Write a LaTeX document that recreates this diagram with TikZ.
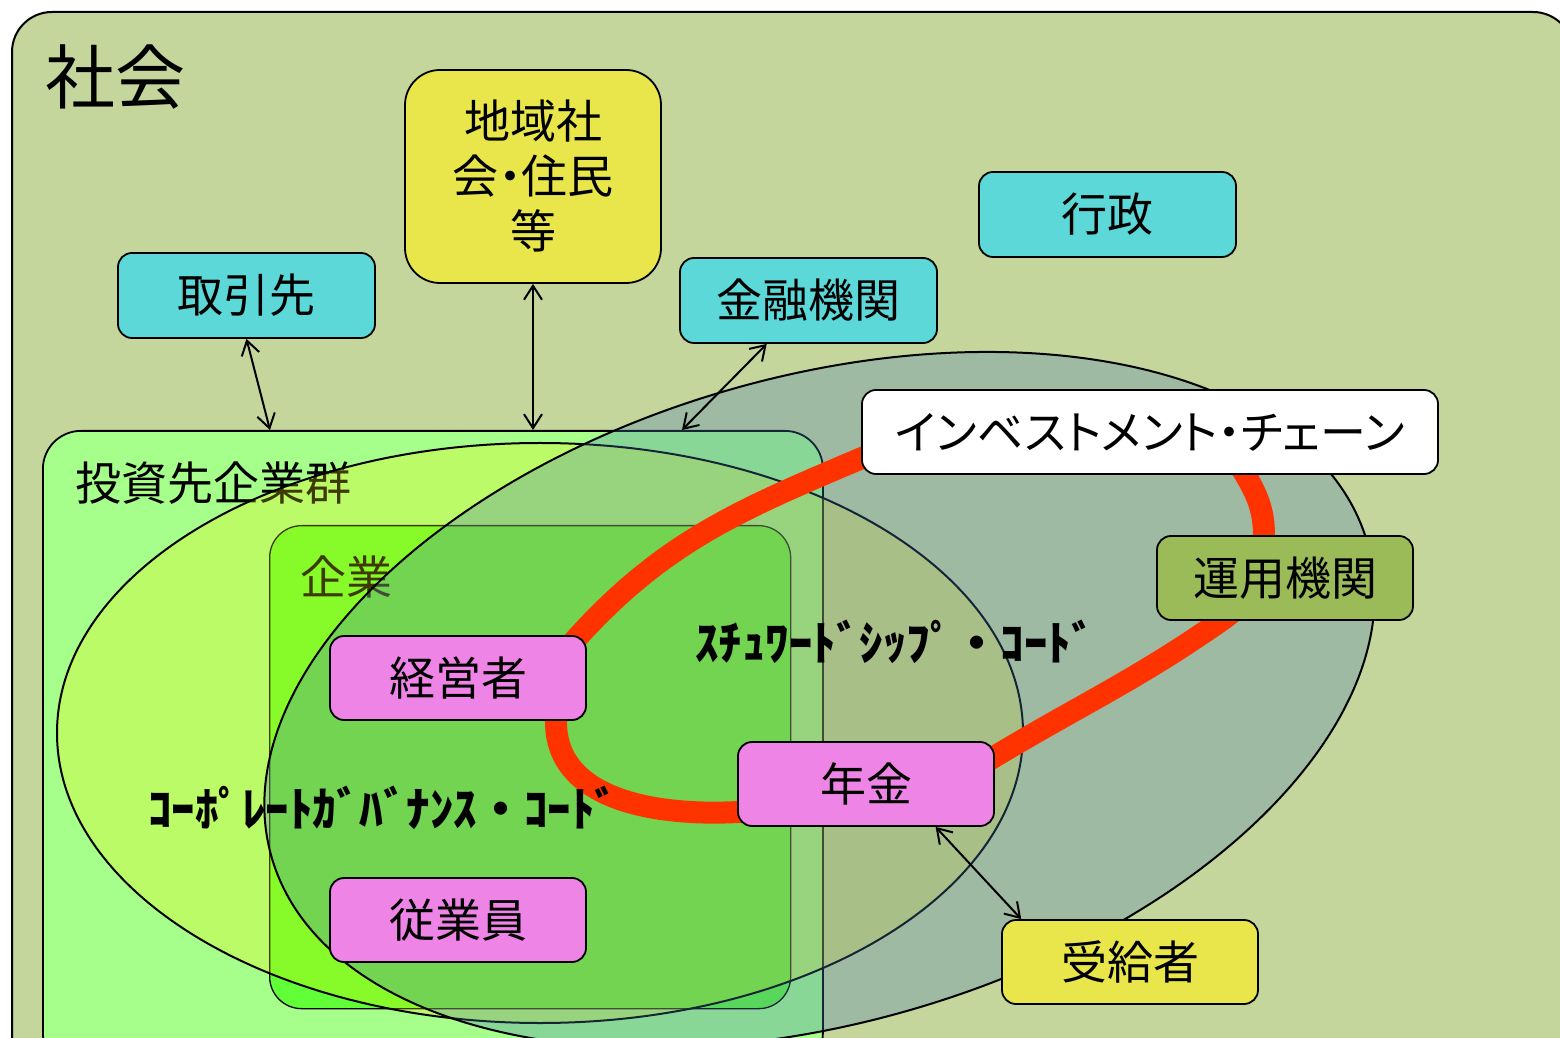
\documentclass[tikz,border=0pt]{standalone}
\usepackage{fontspec}
\setmainfont{Noto Sans CJK JP}
\usetikzlibrary{arrows.meta,calc}
\definecolor{bgc}{HTML}{C4D69C}
\definecolor{toshic}{HTML}{A6FF8A}
\definecolor{kigyoc}{HTML}{60FF37}
\definecolor{cyanc}{HTML}{5CD8D8}
\definecolor{yelc}{HTML}{E8E64A}
\definecolor{pinkc}{HTML}{EE84E6}
\definecolor{olivec}{HTML}{9BBB59}
\definecolor{loopc}{HTML}{FF3300}
\definecolor{sblue}{HTML}{497CB3}
\newcommand\bxf{\fontsize{46}{55}\selectfont}
\tikzset{
  box/.style={draw=black, line width=1.8pt, rounded corners=14pt, minimum width=256pt, minimum height=85pt, inner sep=0pt, font=\bxf},
  link/.style={line width=2pt, {Straight Barb[length=14pt,width=18pt]}-{Straight Barb[length=14pt,width=18pt]}},
  lbl/.style={inner sep=0pt, font=\bxf},
  code/.style={inner sep=0pt, font=\fontsize{47}{50}\selectfont\bfseries},
}
\begin{document}
\begin{tikzpicture}[x=1pt,y=1pt]
\useasboundingbox (0,0) rectangle (1560,1037);
\clip (0,0) rectangle (1560,1037);
\fill[white] (0,0) rectangle (1560,1037);
\draw[fill=bgc, line width=2pt, rounded corners=40pt] (12,-40) rectangle (1573,1025);
\node[inner sep=0pt, font=\fontsize{70}{80}\selectfont] (shakai) at (115,960) {社会};

% investee group and company
\node[draw=black, line width=1.8pt, fill=toshic, rounded corners=38pt, minimum width=780pt, minimum height=640pt, anchor=north west, inner sep=0pt] (toshi) at (42,607) {};
\node[lbl, anchor=west] (toshil) at (75,554) {投資先企業群};
\node[draw=black, line width=1.3pt, fill=kigyoc, rounded corners=32pt, minimum width=521pt, minimum height=483pt, anchor=north west, inner sep=0pt] (kigyo) at (269,512) {};
\node[lbl, anchor=west] (kigyol) at (300,460) {企業};

% governance ellipse
\draw[line width=2pt, fill=yellow, fill opacity=0.24] (540,304) ellipse [x radius=483, y radius=290];
% stewardship ellipse
\draw[line width=2pt, fill=sblue, fill opacity=0.3, rotate around={16:(819.5,337)}] (819.5,337) ellipse [x radius=570, y radius=323];

% investment chain loop
\draw[loopc, line width=22pt, line join=round]
  (862,579) to[out=203,in=48] (575,397)
  to[out=228,in=90] (556,315)
  to[out=270,in=183] (738,225)
  to[out=3,in=211] (994,280)
  to[out=31,in=215] (1222,417)
  to[out=35,in=270] (1264,501)
  to[out=90,in=300] (1245,563)
  to[out=120,in=23,looseness=0.7] (862,579);

% boxes
\node[box, fill=yelc, minimum height=213pt, rounded corners=35pt, align=center, font=\bxf\addfontfeature{RawFeature=+palt}] (chiiki) at (533,860.5) {地域社\\会・住民\\等};
\node[box, fill=cyanc, minimum width=257pt] (gyosei) at (1107.5,822.5) {行政};
\node[box, fill=cyanc, minimum width=257pt] (tori) at (246.5,741.5) {取引先};
\node[box, fill=cyanc, minimum width=257pt] (kinyu) at (808.5,736.5) {金融機関};
\node[box, fill=white, minimum width=576pt, minimum height=84pt, font=\bxf\addfontfeature{RawFeature=+palt}] (ic) at (1150,605) {インベストメント・チェーン};
\node[box, fill=olivec, minimum height=84pt] (unyo) at (1285,459) {運用機関};
\node[box, fill=pinkc, minimum height=84pt] (keiei) at (458,359) {経営者};
\node[box, fill=pinkc, minimum height=84pt] (nenkin) at (866,253) {年金};
\node[box, fill=pinkc, minimum height=84pt] (jugyo) at (458,117) {従業員};
\node[box, fill=yelc, minimum height=84pt] (jukyu) at (1130,75) {受給者};

% code labels
\node[code] (cg) at (383,229) {ｺｰﾎﾟﾚｰﾄｶﾞﾊﾞﾅﾝｽ・ｺｰﾄﾞ};
\node[code] (sc) at (895,395) {ｽﾁｭﾜｰﾄﾞｼｯﾌﾟ・ｺｰﾄﾞ};

% links
\draw[link] (tori.south) -- ($(toshi.north west)+(228,0)$);
\draw[link] (chiiki.south) -- (chiiki.south |- toshi.north);
\draw[link] ($(kinyu.south)!0.323!(kinyu.south west)$) -- ($(toshi.north west)+(640,0)$);
\draw[link] ($(nenkin.south)!0.54!(nenkin.south east)$) -- ($(jukyu.north west)!0.156!(jukyu.north)$);
\end{tikzpicture}
\end{document}
